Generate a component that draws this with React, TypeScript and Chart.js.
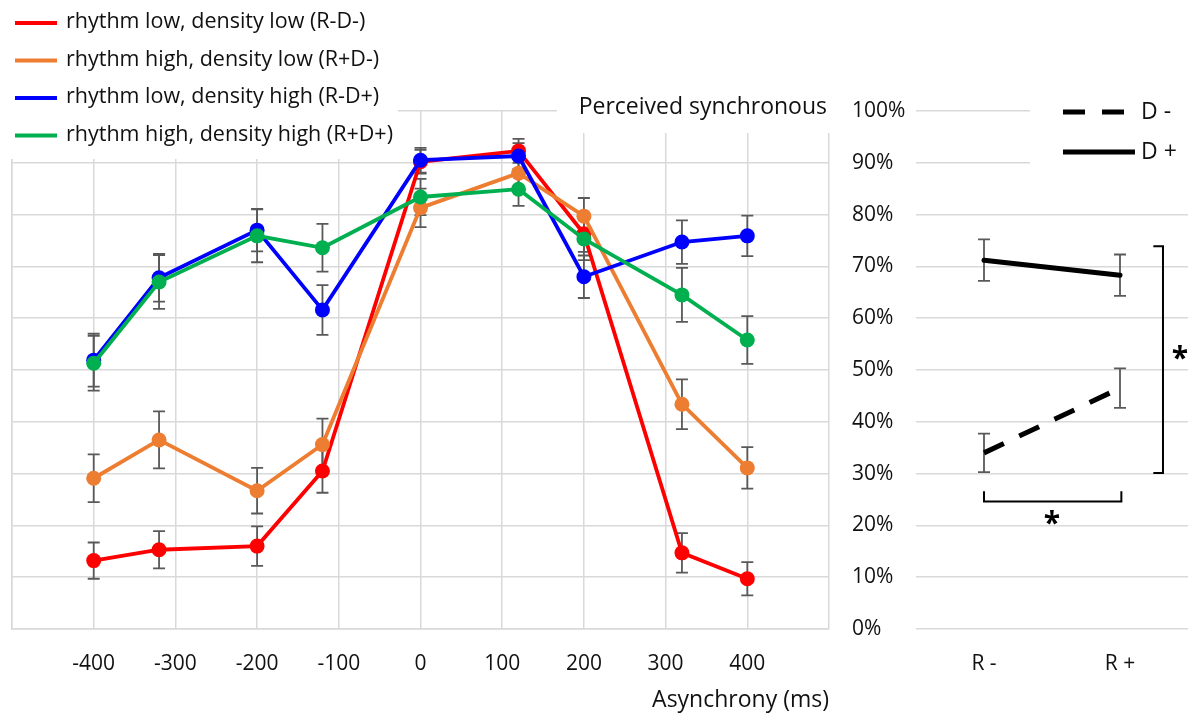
import React, { useEffect, useRef } from "react";
import { Chart, registerables } from "chart.js";

Chart.register(...registerables);

// ---------- data ----------
const asynchronyMs = [-400, -320, -200, -120, 0, 120, 200, 320, 400];
const xTickLabels = [-400, -300, -200, -100, 0, 100, 200, 300, 400];

const seriesLabels = [
  "rhythm low, density low (R-D-)",
  "rhythm high, density low (R+D-)",
  "rhythm low, density high (R-D+)",
  "rhythm high, density high (R+D+)",
];
const rMinusDMinus = [13.2, 15.3, 16.0, 30.5, 90.2, 92.3, 76.3, 14.7, 9.7];
const rMinusDMinusErr = [3.5, 3.6, 3.8, 4.2, 2.3, 2.3, 3.5, 3.8, 3.2];
const rPlusDMinus = [29.1, 36.5, 26.7, 35.6, 81.3, 88.0, 79.7, 43.4, 31.1];
const rPlusDMinusErr = [4.6, 5.5, 4.4, 5.0, 3.7, 3.0, 3.5, 4.8, 4.0];
const rMinusDPlus = [51.9, 67.8, 77.0, 61.6, 90.5, 91.3, 68.0, 74.7, 75.9];
const rMinusDPlusErr = [5.1, 4.6, 4.1, 4.8, 2.4, 2.5, 4.1, 4.2, 3.9];
const rPlusDPlus = [51.3, 67.0, 75.9, 73.6, 83.4, 84.9, 75.3, 64.5, 55.8];
const rPlusDPlusErr = [5.3, 5.2, 5.1, 4.6, 3.5, 3.2, 4.1, 5.2, 4.6];

const rhythmCategories = ["R -", "R +"];
const densityLabels = ["D -", "D +"];
const dMinus = [34.0, 46.5];
const dMinusErr = [3.7, 3.8];
const dPlus = [71.2, 68.3];
const dPlusErr = [4.0, 4.0];

const yTickStep = 10;

// ---------- styles ----------
const FONT = "'Open Sans', sans-serif";
const GRID = "#D9D9D9";
const ERR = "#595959";
const TEXT = "#111111";
const seriesColors = ["#FF0000", "#ED7D31", "#0000FF", "#00B050"];

const errorBarPlugin = {
  id: "errorBars",
  beforeDatasetsDraw(chart: any, _args: any, opts: any) {
    const errs = opts.errors as number[][];
    if (!errs) return;
    const { ctx } = chart;
    const yScale = chart.scales.y;
    const cap = opts.cap ?? 6;
    ctx.save();
    ctx.strokeStyle = opts.color ?? ERR;
    ctx.lineWidth = opts.width ?? 1.8;
    chart.data.datasets.forEach((ds: any, i: number) => {
      const e = errs[i];
      if (!e) return;
      const meta = chart.getDatasetMeta(i);
      meta.data.forEach((pt: any, j: number) => {
        const raw = ds.data[j];
        const v = typeof raw === "number" ? raw : raw.y;
        const x = pt.x;
        const yt = yScale.getPixelForValue(v + e[j]);
        const yb = yScale.getPixelForValue(v - e[j]);
        ctx.beginPath();
        ctx.moveTo(x, yt);
        ctx.lineTo(x, yb);
        ctx.moveTo(x - cap, yt);
        ctx.lineTo(x + cap, yt);
        ctx.moveTo(x - cap, yb);
        ctx.lineTo(x + cap, yb);
        ctx.stroke();
      });
    });
    ctx.restore();
  },
};

const leftOverlayPlugin = {
  id: "leftOverlay",
  afterDraw(chart: any) {
    const { ctx } = chart;
    ctx.save();
    // legend box
    ctx.fillStyle = "#fff";
    ctx.fillRect(0, 0, 398, 159);
    // title box
    ctx.fillRect(557, 0, 290, 133);
    ctx.font = `21.5px ${FONT}`;
    ctx.textBaseline = "middle";
    ctx.textAlign = "left";
    const ys = [22, 59.5, 97, 134.5];
    chart.data.datasets.forEach((ds: any, i: number) => {
      const y = ys[i];
      ctx.strokeStyle = ds.borderColor;
      ctx.lineWidth = 4;
      ctx.beginPath();
      ctx.moveTo(15, y + 1);
      ctx.lineTo(57, y + 1);
      ctx.stroke();
      ctx.fillStyle = TEXT;
      ctx.fillText(ds.label, 66, y);
    });
    ctx.font = `23px ${FONT}`;
    ctx.textAlign = "right";
    ctx.fillText("Perceived synchronous", 827, 107);
    ctx.restore();
  },
};

const rightOverlayPlugin = {
  id: "rightOverlay",
  afterDraw(chart: any) {
    const { ctx } = chart;
    const xs = chart.scales.x;
    const ys = chart.scales.y;
    ctx.save();
    // legend box
    ctx.fillStyle = "#fff";
    ctx.fillRect(190, 92, 170, 84);
    ctx.lineCap = "butt";
    chart.data.datasets.forEach((ds: any, i: number) => {
      const y = i === 0 ? 112 : 152;
      ctx.strokeStyle = ds.borderColor;
      ctx.lineWidth = 5;
      ctx.setLineDash(ds.borderDash || []);
      ctx.beginPath();
      ctx.moveTo(223, y);
      ctx.lineTo(295, y);
      ctx.stroke();
      ctx.setLineDash([]);
      ctx.fillStyle = TEXT;
      ctx.font = `23px ${FONT}`;
      ctx.textBaseline = "middle";
      ctx.textAlign = "left";
      ctx.fillText(ds.label, 301, y);
    });
    // significance brackets
    ctx.strokeStyle = "#000";
    ctx.lineWidth = 2;
    const vx = xs.getPixelForValue(1.316);
    const vxTick = xs.getPixelForValue(1.245);
    const vTop = ys.getPixelForValue(73.9);
    const vBot = ys.getPixelForValue(30.1);
    ctx.beginPath();
    ctx.moveTo(vxTick, vTop);
    ctx.lineTo(vx, vTop);
    ctx.lineTo(vx, vBot);
    ctx.lineTo(vxTick, vBot);
    ctx.stroke();
    const hx0 = xs.getPixelForValue(0);
    const hx1 = xs.getPixelForValue(1.01);
    const hy = ys.getPixelForValue(24.6);
    const hyEnd = ys.getPixelForValue(26.6);
    ctx.beginPath();
    ctx.moveTo(hx0, hyEnd);
    ctx.lineTo(hx0, hy);
    ctx.lineTo(hx1, hy);
    ctx.lineTo(hx1, hyEnd);
    ctx.stroke();
    ctx.fillStyle = "#000";
    ctx.font = `bold 30px ${FONT}`;
    ctx.textAlign = "center";
    ctx.textBaseline = "alphabetic";
    ctx.fillText("*", xs.getPixelForValue(0.5), ys.getPixelForValue(22) + 18);
    ctx.fillText("*", xs.getPixelForValue(1.44), ys.getPixelForValue(53.9) + 18);
    ctx.restore();
  },
};

export default function App() {
  const leftRef = useRef<HTMLCanvasElement>(null);
  const rightRef = useRef<HTMLCanvasElement>(null);

  useEffect(() => {
    const seriesValues = [rMinusDMinus, rPlusDMinus, rMinusDPlus, rPlusDPlus];
    const seriesErrs = [rMinusDMinusErr, rPlusDMinusErr, rMinusDPlusErr, rPlusDPlusErr];
    const tickFont = { family: FONT, size: 21 };
    const titleFont = { family: FONT, size: 23 };

    const left = new Chart(leftRef.current!, {
      type: "line",
      data: {
        datasets: seriesValues.map((vals, i) => ({
          label: seriesLabels[i],
          data: asynchronyMs.map((x, j) => ({ x, y: vals[j] })),
          borderColor: seriesColors[i],
          backgroundColor: seriesColors[i],
          pointBackgroundColor: seriesColors[i],
          pointBorderColor: seriesColors[i],
          borderWidth: 3.8,
          pointRadius: 7.5,
          pointBorderWidth: 0,
          order: 4 - i,
          tension: 0,
        })),
      },
      options: {
        animation: false,
        responsive: true,
        maintainAspectRatio: false,
        layout: { padding: { left: 12, top: 111, right: 11, bottom: 0 } },
        plugins: {
          legend: { display: false },
          tooltip: { enabled: false },
          errorBars: { errors: seriesErrs, cap: 6 },
        } as any,
        scales: {
          x: {
            type: "linear",
            min: -500,
            max: 500,
            ticks: {
              stepSize: 100,
              autoSkip: false,
              maxRotation: 0,
              padding: 22,
              color: TEXT,
              font: tickFont,
              callback: (v: any) => (xTickLabels.includes(Number(v)) ? String(v) : ""),
            },
            grid: { color: GRID, lineWidth: 1.5, drawTicks: false },
            border: { display: true, color: GRID, width: 1.5 },
            title: {
              display: true,
              text: "Asynchrony (ms)",
              align: "end",
              color: TEXT,
              font: titleFont,
              padding: { top: 0, bottom: 1 },
            },
            afterFit: (s: any) => {
              s.height = 86;
              s.paddingLeft = 0;
              s.paddingRight = 0;
            },
          },
          y: {
            min: 0,
            max: 100,
            ticks: { display: false, stepSize: yTickStep },
            grid: { color: GRID, lineWidth: 1.5, drawTicks: false },
            border: { display: true, color: GRID, width: 1.5 },
            afterFit: (s: any) => {
              s.width = 0;
              s.paddingTop = 0;
              s.paddingBottom = 0;
            },
          },
        },
      } as any,
      plugins: [errorBarPlugin, leftOverlayPlugin],
    });

    const right = new Chart(rightRef.current!, {
      type: "line",
      data: {
        labels: rhythmCategories,
        datasets: [
          {
            label: densityLabels[0],
            data: dMinus,
            borderColor: "#000",
            borderWidth: 5,
            borderDash: [22, 17],
            borderCapStyle: "butt",
            pointRadius: 0,
          },
          {
            label: densityLabels[1],
            data: dPlus,
            borderColor: "#000",
            borderWidth: 5,
            borderCapStyle: "round",
            pointRadius: 0,
          },
        ],
      },
      options: {
        animation: false,
        responsive: true,
        maintainAspectRatio: false,
        layout: { padding: { left: 12, top: 111, right: 6, bottom: 0 } },
        plugins: {
          legend: { display: false },
          tooltip: { enabled: false },
          errorBars: { errors: [dMinusErr, dPlusErr], cap: 6 },
        } as any,
        scales: {
          x: {
            offset: true,
            grid: { display: false, drawTicks: false },
            border: { display: false },
            ticks: { padding: 22, color: TEXT, font: tickFont },
            afterFit: (s: any) => {
              s.height = 86;
              s.paddingLeft = 0;
              s.paddingRight = 0;
            },
          },
          y: {
            min: 0,
            max: 100,
            ticks: {
              stepSize: yTickStep,
              padding: 24,
              color: TEXT,
              font: tickFont,
              crossAlign: "far",
              callback: (v: any) => `${v}%`,
            },
            grid: { color: GRID, lineWidth: 1.5, drawTicks: false },
            border: { display: false },
            afterFit: (s: any) => {
              s.width = 64;
              s.paddingTop = 0;
              s.paddingBottom = 0;
            },
          },
        },
      } as any,
      plugins: [errorBarPlugin, rightOverlayPlugin],
    });

    return () => {
      left.destroy();
      right.destroy();
    };
  }, []);

  return (
    <div style={{ position: "absolute", left: 0, top: 0, width: 1194, height: 715, background: "#fff" }}>
      <div style={{ position: "absolute", left: 0, top: 0, width: 840, height: 715 }}>
        <canvas ref={leftRef} />
      </div>
      <div style={{ position: "absolute", left: 840, top: 0, width: 354, height: 715 }}>
        <canvas ref={rightRef} />
      </div>
    </div>
  );
}
